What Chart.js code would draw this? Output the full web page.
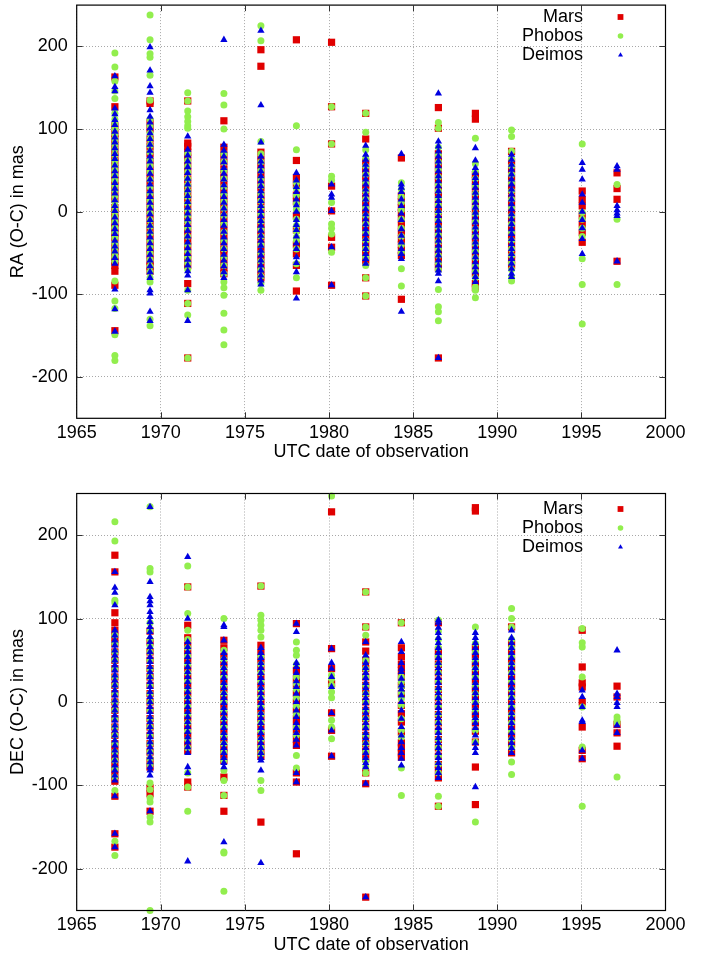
<!DOCTYPE html>
<html><head><meta charset="utf-8">
<script src="https://cdn.jsdelivr.net/npm/chart.js@4/dist/chart.umd.min.js"></script>
<style>
html,body{margin:0;padding:0;background:#fff;overflow:hidden;}
#c1{position:absolute;left:0;top:0;}
#c2{position:absolute;left:0;top:470px;}
</style></head><body>
<canvas id="c1" width="712" height="470"></canvas>
<canvas id="c2" width="712" height="489"></canvas>
<script>
// ---- data (mas), one inner list per observing epoch ----
const epochs = [1967.27, 1969.36, 1971.6, 1973.75, 1975.95, 1978.06, 1980.15, 1982.18, 1984.3, 1986.5, 1988.7, 1990.85, 1995.05, 1997.12];
const xTicks = [1965, 1970, 1975, 1980, 1985, 1990, 1995, 2000];
const yTicks = [-200, -100, 0, 100, 200];
const seriesNames = ['Mars', 'Phobos', 'Deimos'];

const raMars = [
  [163, 127, 104, 95, 88, 80, 72, 66, 60, 52, 45, 38, 31, 23, 15, 5, -2, -8, -14, -20, -26, -32, -42, -48, -55, -60, -65, -72, -89, -144],
  [134, 131, 108, 100, 88, 79, 70, 61, 52, 44, 35, 27, 18, 10, 2, -6, -14, -22, -30, -38, -45, -52, -60, -66, -72],
  [134, 83, 79, 72, 65, 56, 48, 39, 30, 22, 15, 6, -2, -11, -20, -28, -35, -42, -50, -57, -65, -87, -111, -177],
  [110, 78, 69, 60, 51, 42, 33, 25, 16, 8, -1, -10, -19, -28, -36, -45, -52, -60, -68, -75],
  [196, 176, 72, 63, 55, 46, 38, 29, 20, 12, 3, -6, -15, -22, -30, -39, -48, -56, -65, -72, -80],
  [208, 62, 41, 33, 20, 12, -5, -22, -40, -51, -65, -96],
  [205, 127, 82, 31, 1, -31, -43, -89],
  [119, 88, 60, 51, 42, 33, 25, 16, 8, -1, -10, -19, -28, -36, -45, -52, -60, -80, -102],
  [65, 19, 12, 5, -1, -9, -17, -25, -33, -40, -47, -53, -106],
  [126, 101, 70, 61, 52, 43, 35, 26, 18, 9, 0, -9, -18, -26, -35, -44, -52, -60, -68, -177],
  [119, 112, 45, 38, 30, 21, 12, 3, -5, -13, -22, -31, -40, -49, -58, -66, -75, -87, -92],
  [73, 60, 51, 42, 33, 25, 16, 8, -1, -10, -19, -28, -36, -45, -52, -58, -65],
  [25, 15, 7, -5, -15, -25, -37],
  [47, 28, 15, -60]
];
const raPhobos = [
  [192, 175, 158, 146, 137, 119, 112, 106, 100, 94, 88, 82, 76, 69, 62, 56, 50, 44, 38, 32, 26, 19, 12, 6, 0, -6, -12, -19, -25, -31, -38, -44, -50, -55, -60, -84, -108, -117, -149, -174, -180],
  [238, 208, 191, 187, 165, 135, 112, 104, 95, 88, 80, 72, 63, 56, 48, 39, 30, 22, 14, 6, -2, -10, -18, -26, -35, -42, -50, -58, -66, -73, -80, -85, -130, -138],
  [144, 134, 122, 115, 109, 104, 101, 70, 62, 55, 48, 40, 32, 25, 18, 10, 2, -5, -12, -20, -30, -40, -48, -55, -62, -70, -95, -111, -125, -177],
  [143, 129, 100, 70, 60, 50, 40, 30, 21, 12, 4, -5, -15, -25, -35, -45, -55, -65, -75, -85, -92, -101, -123, -143, -161],
  [225, 207, 85, 70, 60, 50, 40, 31, 22, 13, 5, -3, -12, -21, -30, -40, -50, -60, -70, -78, -87, -95],
  [104, 75, 35, 28, 20, 10, 3, -9, -17, -24, -31, -35, -45, -63, -80],
  [127, 82, 43, 38, 11, -15, -20, -27, -49],
  [119, 96, 75, 65, 55, 45, 35, 25, 15, 5, -5, -15, -25, -35, -45, -55, -65, -80, -102],
  [35, 27, 18, 11, 2, -9, -20, -30, -40, -49, -69, -90],
  [108, 101, 78, 69, 60, 51, 42, 33, 25, 16, 8, -1, -10, -19, -28, -36, -45, -53, -62, -70, -94, -115, -121, -132],
  [89, 58, 49, 40, 31, 22, 13, 5, -3, -12, -21, -30, -39, -48, -56, -65, -72, -80, -91, -95, -104],
  [99, 91, 73, 64, 55, 45, 35, 25, 15, 5, -5, -15, -25, -35, -45, -53, -62, -70, -79, -84],
  [82, -1, -9, -20, -30, -57, -88, -136],
  [33, -9, -88]
];
const raDeimos = [
  [164, 151, 146, 125, 118, 111, 105, 97, 90, 84, 77, 70, 64, 56, 49, 43, 35, 28, 22, 14, 7, 1, -7, -14, -21, -27, -35, -42, -48, -56, -63, -94, -118, -145],
  [199, 171, 152, 144, 123, 115, 108, 101, 95, 88, 81, 74, 67, 61, 53, 46, 39, 33, 25, 18, 11, 4, -3, -10, -17, -24, -31, -38, -45, -52, -59, -66, -73, -80, -95, -99, -121, -132],
  [91, 75, 68, 61, 54, 47, 40, 33, 26, 19, 12, 5, -2, -9, -16, -23, -30, -37, -44, -51, -58, -65, -72, -77, -95, -132],
  [208, 81, 74, 67, 60, 53, 46, 39, 32, 25, 18, 11, 4, -3, -10, -17, -24, -31, -38, -45, -52, -59, -66, -73, -80],
  [219, 129, 84, 67, 61, 55, 49, 43, 37, 31, 25, 19, 13, 7, 1, -5, -11, -17, -23, -29, -35, -41, -47, -53, -59, -65, -71, -77, -83, -88],
  [47, 38, 30, 24, 15, 8, 0, -10, -16, -22, -30, -38, -45, -55, -62, -73, -105],
  [33, 21, 17, 1, -43, -89],
  [80, 69, 63, 57, 51, 45, 39, 33, 27, 21, 15, 9, 3, -3, -9, -15, -21, -27, -33, -39, -45, -51, -57, -63],
  [70, 33, 29, 24, 15, 7, -2, -10, -21, -29, -37, -45, -51, -57, -121],
  [143, 85, 79, 73, 67, 61, 55, 49, 43, 37, 31, 25, 19, 13, 7, 1, -5, -11, -17, -23, -29, -35, -41, -47, -53, -59, -65, -71, -75, -84, -177],
  [77, 62, 53, 47, 41, 35, 29, 23, 17, 11, 5, -1, -7, -13, -19, -25, -31, -37, -43, -49, -55, -61, -67, -73, -79, -85],
  [69, 63, 57, 51, 45, 39, 33, 27, 21, 15, 9, 3, -3, -9, -15, -21, -27, -33, -39, -45, -51, -57, -63, -69, -75, -79],
  [59, 51, 39, 21, 11, 0, -10, -20, -33, -51],
  [55, 51, 7, 2, -2, -5, -60]
];

const decMars = [
  [176, 156, 107, 95, 86, 78, 70, 60, 50, 40, 30, 20, 10, 0, -10, -20, -30, -40, -50, -58, -65, -72, -80, -88, -95, -113, -158, -174],
  [85, 72, 60, 50, 40, 30, 20, 10, 0, -10, -20, -30, -40, -50, -60, -70, -78, -103, -110, -131],
  [138, 92, 77, 68, 59, 50, 40, 30, 20, 10, 0, -10, -20, -30, -40, -50, -58, -96, -102],
  [74, 65, 55, 45, 35, 25, 15, 5, -5, -15, -25, -35, -45, -55, -62, -70, -90, -112, -131],
  [139, 68, 59, 50, 40, 30, 20, 10, 0, -10, -20, -30, -40, -50, -58, -65, -144],
  [94, 38, 28, 20, 10, 0, -10, -20, -28, -37, -45, -52, -85, -96, -182],
  [228, 64, 40, 22, -13, -34, -65],
  [132, 90, 72, 61, 50, 40, 30, 20, 10, 0, -10, -20, -30, -40, -50, -59, -68, -85, -98, -234],
  [95, 65, 54, 45, 38, 30, 20, 10, -4, -14, -24, -36, -49, -55, -61, -66],
  [95, 62, 54, 45, 35, 25, 15, 5, -5, -15, -25, -35, -45, -55, -65, -75, -82, -91, -125],
  [233, 229, 65, 55, 45, 35, 25, 15, 5, -5, -15, -25, -35, -48, -78, -123],
  [90, 70, 60, 50, 40, 30, 20, 10, 0, -10, -20, -30, -40, -50, -61],
  [86, 42, 23, 18, 0, -30, -58, -68],
  [19, 6, -27, -37, -53]
];
const decPhobos = [
  [216, 193, 122, 119, 80, 70, 60, 50, 40, 30, 20, 10, 0, -10, -20, -30, -40, -50, -60, -70, -80, -90, -106, -167, -184],
  [234, 160, 156, 95, 85, 75, 67, 60, 50, 40, 30, 20, 10, 0, -10, -20, -30, -40, -50, -60, -68, -75, -97, -105, -115, -120, -138, -144, -250],
  [163, 138, 106, 86, 75, 65, 55, 45, 35, 25, 15, 5, -5, -15, -25, -35, -45, -55, -85, -102, -131],
  [100, 62, 51, 40, 30, 20, 10, 0, -10, -20, -30, -40, -50, -60, -70, -82, -94, -112, -180, -181, -227],
  [139, 104, 98, 92, 86, 78, 55, 45, 35, 25, 15, 5, -5, -15, -25, -35, -45, -55, -62, -94, -106],
  [72, 62, 56, 45, 30, 22, 15, 5, -5, -15, -30, -40, -64, -79],
  [247, 32, 28, 20, 12, 5, -22, -30, -44],
  [132, 90, 80, 50, 40, 30, 20, 10, 0, -10, -20, -30, -40, -50, -60, -70, -78, -85],
  [95, 30, 24, 18, 11, 4, -4, -20, -34, -42, -79, -112],
  [98, 85, 75, 65, 55, 45, 35, 25, 15, 5, -5, -15, -25, -35, -45, -55, -65, -75, -85, -113, -125],
  [90, 70, 60, 50, 40, 30, 20, 10, 0, -10, -22, -34, -48, -144],
  [112, 100, 90, 75, 65, 55, 45, 35, 25, 15, 5, -5, -15, -25, -35, -45, -55, -72, -87],
  [88, 71, 66, 30, -6, -54, -125],
  [-18, -22, -25, -90]
];
const decDeimos = [
  [156, 137, 131, 116, 86, 80, 74, 68, 62, 56, 50, 44, 38, 32, 26, 20, 14, 8, 2, -4, -10, -16, -22, -28, -34, -40, -46, -52, -58, -64, -70, -76, -82, -88, -94, -113, -158, -174],
  [234, 144, 126, 121, 116, 108, 102, 96, 90, 84, 78, 72, 66, 60, 54, 48, 42, 36, 30, 24, 18, 12, 6, 0, -6, -12, -18, -24, -30, -36, -42, -48, -54, -60, -66, -72, -78, -82, -88, -131],
  [174, 100, 72, 66, 60, 54, 48, 42, 36, 30, 24, 18, 12, 6, 0, -6, -12, -18, -24, -30, -36, -42, -48, -54, -61, -78, -85, -191],
  [92, 90, 74, 59, 53, 47, 41, 35, 29, 23, 17, 11, 5, -1, -7, -13, -19, -25, -31, -37, -43, -49, -55, -61, -67, -73, -78, -168],
  [65, 59, 53, 47, 41, 35, 29, 23, 17, 11, 5, -1, -7, -13, -19, -25, -31, -37, -43, -49, -55, -61, -67, -70, -82, -193],
  [94, 84, 47, 42, 35, 25, 18, 10, 0, -10, -18, -25, -31, -37, -45, -52, -85, -96],
  [64, 47, 40, 30, 18, -13, -34, -65],
  [72, 56, 47, 41, 35, 29, 23, 17, 11, 5, -1, -7, -13, -19, -25, -31, -37, -43, -49, -55, -61, -67, -73, -78, -98, -234],
  [72, 60, 47, 40, 36, 28, 20, 15, 8, 0, -10, -20, -30, -40, -48, -55, -61, -68, -76],
  [98, 95, 89, 83, 77, 71, 65, 59, 53, 47, 41, 35, 29, 23, 17, 11, 5, -1, -7, -13, -19, -25, -31, -37, -43, -49, -55, -61, -67, -73, -79, -85, -91],
  [83, 77, 71, 65, 59, 53, 47, 41, 35, 29, 23, 17, 11, 5, -1, -7, -13, -19, -25, -31, -40, -49, -55, -61, -102],
  [86, 77, 71, 65, 59, 53, 47, 41, 35, 29, 23, 17, 11, 5, -1, -7, -13, -19, -25, -31, -37, -43, -49, -55, -61],
  [14, 6, -6, -22, -24, -58, -68],
  [62, 10, 6, -1, -6, -28, -37]
];

// ---- styling ----
const FONT = '"Liberation Sans", Arial, Helvetica, sans-serif';
const COLORS = ['#e00000', '#92ee4e', '#0000e0'];
const STYLES = [
  {pointStyle: 'rect', radius: 5.1, order: 3},
  {pointStyle: 'circle', radius: 3.5, order: 2},
  {pointStyle: 'triangle', radius: 4.2, order: 1}
];
Chart.defaults.font.family = FONT;
Chart.defaults.color = '#000';

function toPoints(lists) {
  const pts = [];
  lists.forEach((vals, i) => vals.forEach(v => pts.push({x: epochs[i], y: v})));
  return pts;
}

function makeDatasets(seriesLists) {
  return seriesLists.map((lists, k) => ({
    label: seriesNames[k],
    data: toPoints(lists),
    pointStyle: STYLES[k].pointStyle,
    pointRadius: STYLES[k].radius,
    pointHoverRadius: STYLES[k].radius,
    pointBackgroundColor: COLORS[k],
    pointBorderColor: COLORS[k],
    pointBorderWidth: 0,
    showLine: false,
    order: STYLES[k].order,
    clip: false
  }));
}

const framePlugin = {
  id: 'frame',
  afterDraw(chart, args, opts) {
    const {ctx, chartArea: a, scales} = chart;
    ctx.save();
    ctx.strokeStyle = '#000';
    ctx.lineWidth = 1.2;
    ctx.strokeRect(a.left, a.top, a.right - a.left, a.bottom - a.top);
    const L = 6;
    ctx.lineWidth = 1;
    ctx.strokeStyle = '#333';
    ctx.beginPath();
    xTicks.slice(1, -1).forEach(t => {
      const x = Math.round(scales.x.getPixelForValue(t)) + 0.5;
      ctx.moveTo(x, a.bottom); ctx.lineTo(x, a.bottom - L);
      ctx.moveTo(x, a.top); ctx.lineTo(x, a.top + L);
    });
    yTicks.forEach(t => {
      const y = Math.round(scales.y.getPixelForValue(t)) + 0.5;
      ctx.moveTo(a.left, y); ctx.lineTo(a.left + L, y);
      ctx.moveTo(a.right, y); ctx.lineTo(a.right - L, y);
    });
    ctx.stroke();
    // legend (text right-aligned, marker to the right)
    ctx.font = '18px ' + FONT;
    ctx.textAlign = 'right';
    ctx.textBaseline = 'middle';
    const textX = 583, markX = 620.5;
    opts.rows.forEach((yy, k) => {
      ctx.fillStyle = '#000';
      ctx.fillText(seriesNames[k], textX, yy);
      ctx.fillStyle = COLORS[k];
      ctx.beginPath();
      if (k === 0) { ctx.rect(markX - 2.9, yy - 2.9, 5.8, 5.8); }
      else if (k === 1) { ctx.arc(markX, yy, 2.8, 0, Math.PI * 2); }
      else { ctx.moveTo(markX, yy - 2.7); ctx.lineTo(markX + 2.5, yy + 1.6); ctx.lineTo(markX - 2.5, yy + 1.6); ctx.closePath(); }
      ctx.fill();
    });
    ctx.restore();
  }
};

function makeChart(id, seriesLists, yTitle, cfg) {
  return new Chart(document.getElementById(id), {
    type: 'scatter',
    data: {datasets: makeDatasets(seriesLists)},
    plugins: [framePlugin],
    options: {
      responsive: false,
      animation: false,
      devicePixelRatio: 1,
      events: [],
      layout: {padding: {top: cfg.padTop, right: 712 - 665.5, left: 0, bottom: 0}},
      plugins: {legend: {display: false}, tooltip: {enabled: false}, frame: {rows: cfg.rows}},
      scales: {
        x: {
          type: 'linear', min: 1965, max: 2000,
          afterBuildTicks: s => { s.ticks = xTicks.map(v => ({value: v})); },
          afterFit: s => { s.height = cfg.xAxisH; s.paddingLeft = 0; s.paddingRight = 0; },
          grid: {color: '#a8a8a8', lineWidth: 1, drawTicks: false},
          border: {display: false, dash: [1, 2]},
          ticks: {font: {size: 18}, padding: cfg.tickPad, maxRotation: 0, autoSkip: false, color: '#000',
                  callback: v => String(v)},
          title: {display: true, text: 'UTC date of observation', font: {size: 18, lineHeight: 1.2}, padding: {top: 0, bottom: cfg.titlePad}, color: '#000'}
        },
        y: {
          type: 'linear', min: -250, max: 250,
          afterBuildTicks: s => { s.ticks = yTicks.map(v => ({value: v})); },
          afterFit: s => { s.width = 76.7; s.paddingTop = 0; s.paddingBottom = 0; },
          grid: {color: '#a8a8a8', lineWidth: 1, drawTicks: false},
          border: {display: false, dash: [1, 2]},
          ticks: {font: {size: 18}, padding: 9, color: '#000', callback: v => String(v)},
          title: {display: true, text: yTitle, font: {size: 18, lineHeight: 1.2}, padding: {top: 7, bottom: 0}, color: '#000'}
        }
      }
    }
  });
}

makeChart('c1', [raMars, raPhobos, raDeimos], 'RA (O-C) in mas',
  {padTop: 1.7, xAxisH: 470 - 418.3, tickPad: 4, titlePad: 7, rows: [17, 36, 55]});
makeChart('c2', [decMars, decPhobos, decDeimos], 'DEC (O-C) in mas',
  {padTop: 23.5, xAxisH: 489 - 440.5, tickPad: 4, titlePad: 3, rows: [39, 58, 77]});
</script>
</body></html>
